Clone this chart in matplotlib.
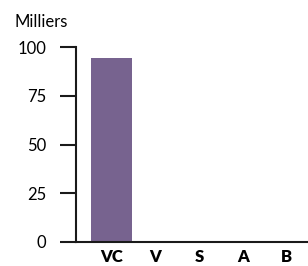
import matplotlib.pyplot as plt

# data (thousands)
categories = ["VC", "V", "S", "A", "B"]
values = [94.5, 0, 0, 0, 0]
yticks = [0, 25, 50, 75, 100]

fig = plt.figure(figsize=(3.08, 2.66), dpi=100)
ax = fig.add_axes([76 / 308, 1 - 242 / 266, 1 - 76 / 308, (242 - 47) / 266])

x = list(range(len(categories)))
ax.bar(x, values, width=0.93, color="#77638f")

ax.set_xlim(-0.8, 4.48)
ax.set_ylim(0, 100)
ax.set_yticks(yticks)
ax.set_yticklabels([str(t) for t in yticks], fontsize=12, family="Lato")
ax.set_xticks(x)
ax.set_xticklabels(categories, fontsize=12, fontweight="heavy", family="Lato")

for s in ["top", "right"]:
    ax.spines[s].set_visible(False)
for s in ["left", "bottom"]:
    ax.spines[s].set_linewidth(1.5)
    ax.spines[s].set_color("#1a1a1a")

ax.tick_params(axis="y", length=11.5, width=1.5, pad=10, color="#1a1a1a")
ax.tick_params(axis="x", length=0, pad=5)

fig.text(15 / 308, 1 - 27 / 266, "Milliers", fontsize=12, family="Lato")

fig.savefig("out.png", dpi=100)
